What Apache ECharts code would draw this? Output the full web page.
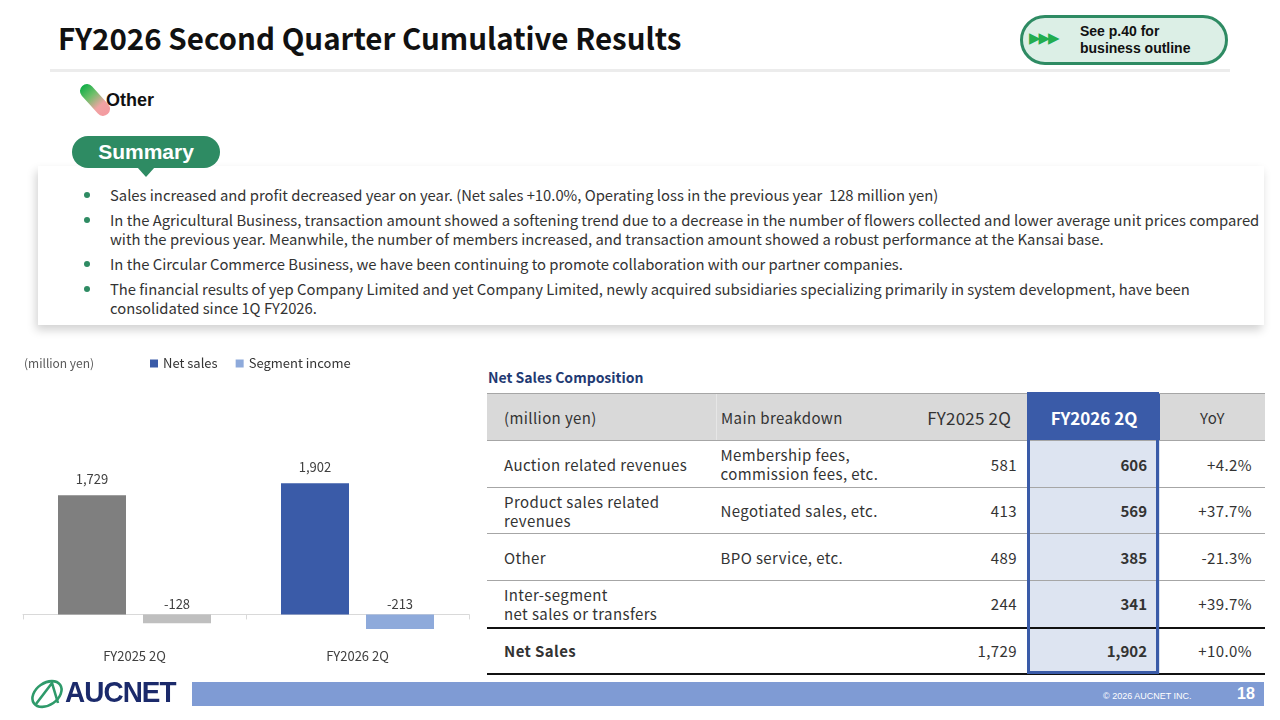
<!DOCTYPE html>
<html>
<head>
<meta charset="utf-8">
<script src="https://cdn.jsdelivr.net/npm/echarts@6/dist/echarts.min.js"></script>
<style>
  html, body { margin: 0; padding: 0; background: #fff; }
  body { width: 1280px; height: 720px; position: relative; overflow: hidden;
         font-family: "Noto Sans CJK JP", "Noto Sans", sans-serif; color: #333; }
  .abs { position: absolute; }
  #title { left: 58px; top: 16px; font-size: 29.5px; font-weight: 700; color: #111; white-space: nowrap; }
  #titleLine { left: 50px; top: 69px; width: 1180px; height: 3px; background: #ececec; }
  #seeBtn { left: 1020px; top: 15px; width: 202px; height: 44px; border: 3px solid #2e8b63;
            border-radius: 25px; background: #dcefe6; }
  #seeArrows { left: 1029px; top: 29px; color: #22ad4f; font-size: 15px; letter-spacing: -2px;
               font-family: "DejaVu Sans", sans-serif; }
  #seeText { left: 1080px; top: 23px; font-family: "Liberation Sans", Arial, sans-serif; font-weight: 700;
             font-size: 14px; line-height: 17px; color: #111; }
  #otherIcon { left: 88px; top: 81px; width: 14px; height: 38px; border-radius: 7px;
               transform: rotate(-42deg);
               background: linear-gradient(to bottom, #0fae47 0%, #6fbf6a 35%, #f0a3a3 70%, #f49aa0 100%); }
  #otherText { left: 106px; top: 90px; font-family: "Liberation Sans", Arial, sans-serif; font-weight: 700;
               font-size: 18px; color: #111; }
  #box { left: 38px; top: 166px; width: 1226px; height: 159px; background: #fff;
         box-shadow: -2px 5px 9px rgba(0,0,0,0.18); }
  #tab { left: 72px; top: 136px; width: 148px; height: 32px; border-radius: 16px; background: #2e8b63;
         color: #fff; font-family: "Liberation Sans", Arial, sans-serif; font-weight: 700; font-size: 21px;
         line-height: 32px; text-align: center; z-index: 3; }
  #tabTip { left: 137px; top: 167px; width: 0; height: 0; border-left: 9px solid transparent;
            border-right: 9px solid transparent; border-top: 10px solid #2e8b63; z-index: 3; }
  #bullets { left: 110px; top: 185px; width: 1152px; font-size: 14.8px; line-height: 19px; color: #333; }
  #bullets div { position: relative; margin-bottom: 6px; }
  #bullets div::before { content: ""; position: absolute; left: -26px; top: 7px; width: 6px; height: 6px;
                         border-radius: 3px; background: #2e8b63; }
  #chart { left: 0; top: 340px; width: 480px; height: 340px; }
  #tblTitle { left: 488px; top: 367px; font-size: 14px; font-weight: 700; color: #1f3a73; }
  #tbl { left: 487px; top: 393px; border-collapse: collapse; font-size: 15px; letter-spacing: 0.4px; color: #333; }
  #tbl td { padding: 0; vertical-align: middle; line-height: 19px; }
  #tbl tr.head td { background: #d9d9d9; height: 46px; border-top: 1px solid #a6a6a6; border-bottom: 1px solid #a6a6a6; }
  #tbl tr.body td { border-bottom: 1px solid #a6a6a6; }
  #tbl tr.total td { border-top: 2px solid #111; border-bottom: 2px solid #111; }
  #tbl td.c1 { width: 212px; padding-left: 17px; }
  #tbl td.c2 { width: 160px; padding-left: 4px; }
  #tbl td.c3 { width: 136px; padding-right: 11px; text-align: right; }
  #tbl td.c4 { width: 119px; padding-right: 13px; text-align: right; background: #dde4f1; font-weight: 700; letter-spacing: 0; }
  #tbl td.c5 { width: 92px; padding-right: 13px; text-align: right; }
  #tbl tr.head td.c2 { border-left: 1px solid #e6e6e6; }
  #tbl tr.head td.c3 { font-size: 17px; padding-right: 17px; width: 130px; letter-spacing: 0.2px; }
  #tbl tr.head td.c4 { background: #3a5ba8; color: #fff; font-size: 17px; text-align: center; padding-right: 0; width: 132px; }
  #tbl tr.head td.c5 { text-align: center; padding-right: 0; width: 105px; }
  #colFrame { left: 1027px; top: 392px; width: 126px; height: 276px; border: 3px solid #3a5ba8; pointer-events: none; }
  #footBar { left: 192px; top: 682px; width: 1072px; height: 24px; background: #7f9bd4; }
  #copy { left: 1103px; top: 691px; font-family: "Liberation Sans", Arial, sans-serif; font-size: 9px; color: #fff; }
  #page { left: 1237px; top: 685px; font-family: "Liberation Sans", Arial, sans-serif; font-weight: 700; font-size: 16px; color: #fff; }
  #logoText { left: 65px; top: 675px; font-family: "Liberation Sans", Arial, sans-serif; font-weight: 700;
              font-size: 30px; color: #1b2a6b; transform: scaleX(0.93); transform-origin: left top; letter-spacing: -1px; }
</style>
</head>
<body>
<div id="title" class="abs">FY2026 Second Quarter Cumulative Results</div>
<div id="titleLine" class="abs"></div>
<div id="seeBtn" class="abs"></div>
<div id="seeArrows" class="abs">&#9654;&#9654;&#9654;</div>
<div id="seeText" class="abs">See p.40 for<br>business outline</div>

<div id="otherIcon" class="abs"></div>
<div id="otherText" class="abs">Other</div>

<div id="box" class="abs"></div>
<div id="tab" class="abs">Summary</div>
<div id="tabTip" class="abs"></div>
<div id="bullets" class="abs"></div>

<div id="chart" class="abs"></div>

<div id="tblTitle" class="abs">Net Sales Composition</div>
<table id="tbl" class="abs"></table>
<div id="colFrame" class="abs"></div>

<svg class="abs" style="left:28px;top:679px" width="40" height="30" viewBox="0 0 40 30">
  <ellipse cx="19" cy="15" rx="16" ry="11" transform="rotate(-35 19 15)" fill="none" stroke="#2e9a6a" stroke-width="2.6"/>
  <path d="M8 25 L24 4 L30 24" fill="none" stroke="#2e9a6a" stroke-width="2.6"/>
</svg>
<div id="logoText" class="abs">AUCNET</div>
<div id="footBar" class="abs"></div>
<div id="copy" class="abs">&copy; 2026 AUCNET INC.</div>
<div id="page" class="abs">18</div>

<script>
// chart data
var categories = ['FY2025 2Q', 'FY2026 2Q'];
var netSales = [1729, 1902];
var segmentIncome = [-128, -213];
var netSalesColors = ['#7f7f7f', '#3a5ba8'];
var segmentColors = ['#bfbfbf', '#8eaadb'];

// table data
var rowLabels = ['Auction related revenues', 'Product sales related<br>revenues', 'Other', 'Inter-segment<br>net sales or transfers', 'Net Sales'];
var breakdowns = ['Membership fees,<br>commission fees, etc.', 'Negotiated sales, etc.', 'BPO service, etc.', '', ''];
var fy2025Values = [581, 413, 489, 244, 1729];
var fy2026Values = [606, 569, 385, 341, 1902];
var yoyValues = ['+4.2%', '+37.7%', '-21.3%', '+39.7%', '+10.0%'];
var tableHeader = ['(million yen)', 'Main breakdown', 'FY2025 2Q', 'FY2026 2Q', 'YoY'];
var rowHeights = [47, 46, 47, 47, 46];

var bulletTexts = [
    'Sales increased and profit decreased year on year. (Net sales +10.0%, Operating loss in the previous year&nbsp; 128 million yen)',
    'In the Agricultural Business, transaction amount showed a softening trend due to a decrease in the number of flowers collected and lower average unit prices compared with the previous year. Meanwhile, the number of members increased, and transaction amount showed a robust performance at the Kansai base.',
    'In the Circular Commerce Business, we have been continuing to promote collaboration with our partner companies.',
    'The financial results of yep Company Limited and yet Company Limited, newly acquired subsidiaries specializing primarily in system development, have been consolidated since 1Q FY2026.'
];

function fmt(v) {
    return v.toLocaleString('en-US');
}

window.onload = function() {
    // summary bullets
    var html = '';
    for (var i = 0; i < bulletTexts.length; i++) {
        html += '<div>' + bulletTexts[i] + '</div>';
    }
    document.getElementById('bullets').innerHTML = html;

    // table
    var t = '<tr class="head">';
    for (var c = 0; c < tableHeader.length; c++) {
        t += '<td class="c' + (c + 1) + '">' + tableHeader[c] + '</td>';
    }
    t += '</tr>';
    for (var r = 0; r < rowLabels.length; r++) {
        var isTotal = r === rowLabels.length - 1;
        t += '<tr class="' + (isTotal ? 'total' : 'body') + '" style="height:' + rowHeights[r] + 'px">';
        t += '<td class="c1"' + (isTotal ? ' style="font-weight:700"' : '') + '>' + rowLabels[r] + '</td>';
        t += '<td class="c2">' + breakdowns[r] + '</td>';
        t += '<td class="c3">' + fmt(fy2025Values[r]) + '</td>';
        t += '<td class="c4">' + fmt(fy2026Values[r]) + '</td>';
        t += '<td class="c5">' + yoyValues[r] + '</td>';
        t += '</tr>';
    }
    document.getElementById('tbl').innerHTML = t;

    // bar chart
    var barChart = echarts.init(document.getElementById('chart'));

    var option = {
        animation: false,
        textStyle: { fontFamily: '"Noto Sans CJK JP", "Noto Sans", sans-serif' },
        title: {
            text: '(million yen)',
            left: 19,
            top: 12,
            textStyle: { fontSize: 12, fontWeight: 'normal', color: '#595959' }
        },
        legend: {
            left: 145,
            top: 12,
            icon: 'rect',
            itemWidth: 8,
            itemHeight: 8,
            itemGap: 18,
            textStyle: { fontSize: 13, color: '#333' },
            data: ['Net sales', 'Segment income']
        },
        grid: {
            left: 23,
            right: 11,
            top: 109,
            bottom: 38,
            outerBoundsMode: 'none'
        },
        xAxis: {
            type: 'category',
            data: categories,
            axisLine: { lineStyle: { color: '#d9d9d9' } },
            axisTick: { show: true, length: 5, lineStyle: { color: '#d9d9d9' } },
            axisLabel: { margin: 8, fontSize: 13, color: '#404040' }
        },
        yAxis: {
            type: 'value',
            show: false,
            min: -400,
            max: 2400,
            splitLine: { show: false }
        },
        series: [
            {
                name: 'Net sales',
                type: 'bar',
                barWidth: 68,
                barGap: '25%',
                itemStyle: { color: '#3a5ba8' },
                label: {
                    show: true, position: 'top', distance: 10, fontSize: 13, color: '#404040',
                    formatter: function (p) { return fmt(p.value); }
                },
                data: netSales.map(function (v, i) {
                    return { value: v, itemStyle: { color: netSalesColors[i] } };
                })
            },
            {
                name: 'Segment income',
                type: 'bar',
                barWidth: 68,
                itemStyle: { color: '#8eaadb' },
                label: {
                    show: true, position: 'top', distance: 4, fontSize: 13, color: '#404040',
                    formatter: function (p) { return fmt(p.value); }
                },
                data: segmentIncome.map(function (v, i) {
                    return { value: v, itemStyle: { color: segmentColors[i] } };
                })
            }
        ]
    };

    barChart.setOption(option);

    window.onresize = function() {
        barChart.resize();
    };
};
</script>
</body>
</html>
